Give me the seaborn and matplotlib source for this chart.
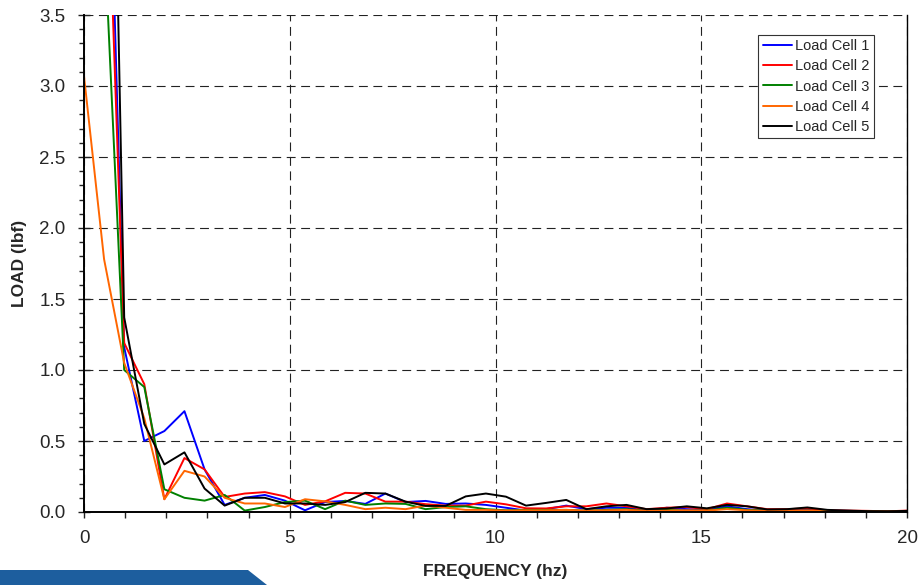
import numpy as np
import pandas as pd
import seaborn as sns
import matplotlib
matplotlib.use("Agg")
import matplotlib.pyplot as plt
from matplotlib.ticker import MultipleLocator, NullFormatter, FormatStrFormatter
from matplotlib.patches import Polygon

# ---------------- data ----------------
freq = [0.000, 0.488, 0.977, 1.465, 1.953, 2.441, 2.930, 3.418, 3.906, 4.395,
        4.883, 5.371, 5.859, 6.348, 6.836, 7.324, 7.813, 8.301, 8.789, 9.277,
        9.766, 10.254, 10.742, 11.230, 11.719, 12.207, 12.695, 13.184, 13.672, 14.160,
        14.648, 15.137, 15.625, 16.113, 16.602, 17.090, 17.578, 18.066, 18.555, 19.043,
        19.531, 20.020]

load_cell_1 = [8.0, 6.1, 1.16, 0.50, 0.57, 0.71, 0.30, 0.05, 0.10, 0.12,
               0.08, 0.012, 0.07, 0.078, 0.057, 0.13, 0.07, 0.078, 0.057, 0.06,
               0.05, 0.03, 0.01, 0.02, 0.045, 0.02, 0.03, 0.03, 0.01, 0.03,
               0.02, 0.015, 0.04, 0.02, 0.01, 0.015, 0.02, 0.01, 0.008, 0.005,
               0.005, 0.005]
load_cell_2 = [9.0, 5.3, 1.19, 0.90, 0.09, 0.38, 0.30, 0.106, 0.13, 0.14,
               0.11, 0.05, 0.075, 0.135, 0.13, 0.073, 0.073, 0.055, 0.045, 0.045,
               0.073, 0.054, 0.026, 0.025, 0.04, 0.04, 0.06, 0.04, 0.02, 0.03,
               0.035, 0.02, 0.06, 0.04, 0.02, 0.02, 0.025, 0.012, 0.01, 0.008,
               0.005, 0.01]
load_cell_3 = [6.0, 4.1, 1.00, 0.88, 0.16, 0.10, 0.08, 0.12, 0.01, 0.035,
               0.07, 0.08, 0.02, 0.08, 0.05, 0.06, 0.057, 0.02, 0.035, 0.04,
               0.02, 0.012, 0.015, 0.015, 0.015, 0.01, 0.015, 0.02, 0.008, 0.015,
               0.01, 0.01, 0.03, 0.015, 0.01, 0.008, 0.01, 0.005, 0.005, 0.004,
               0.003, 0.003]
load_cell_4 = [3.07, 1.78, 1.05, 0.66, 0.09, 0.29, 0.25, 0.10, 0.06, 0.06,
               0.035, 0.09, 0.075, 0.05, 0.02, 0.03, 0.02, 0.045, 0.03, 0.015,
               0.015, 0.01, 0.012, 0.012, 0.015, 0.01, 0.012, 0.015, 0.008, 0.01,
               0.012, 0.01, 0.02, 0.012, 0.008, 0.008, 0.01, 0.005, 0.004, 0.003,
               0.003, 0.003]
load_cell_5 = [12.0, 8.5, 1.37, 0.62, 0.335, 0.42, 0.165, 0.045, 0.10, 0.10,
               0.06, 0.06, 0.05, 0.07, 0.135, 0.13, 0.073, 0.043, 0.043, 0.11,
               0.13, 0.108, 0.045, 0.064, 0.085, 0.02, 0.04, 0.05, 0.02, 0.025,
               0.04, 0.026, 0.05, 0.04, 0.018, 0.02, 0.032, 0.015, 0.01, 0.006,
               0.005, 0.008]

series_names = ["Load Cell 1", "Load Cell 2", "Load Cell 3", "Load Cell 4", "Load Cell 5"]
series_values = [load_cell_1, load_cell_2, load_cell_3, load_cell_4, load_cell_5]
series_colors = ["#0000ff", "#ff0000", "#008000", "#ff6600", "#000000"]

x_label = "FREQUENCY (hz)"
y_label = "LOAD (lbf)"

# ---------------- build table ----------------
df = pd.concat(
    [pd.DataFrame({"freq": freq, "load": vals, "series": name})
     for name, vals in zip(series_names, series_values)],
    ignore_index=True)

sns.set_style("white")
plt.rcParams["font.family"] = ["Liberation Sans", "DejaVu Sans"]

fig = plt.figure(figsize=(9.22, 5.85), dpi=100)
ax = fig.add_axes([84 / 922, 73 / 585, 823 / 922, 497 / 585])

sns.lineplot(data=df, x="freq", y="load", hue="series", hue_order=series_names,
             palette=dict(zip(series_names, series_colors)), linewidth=1.4,
             ax=ax, legend=True, sort=False)

ax.set_xlim(0, 20)
ax.set_ylim(0, 3.5)

ax.xaxis.set_major_locator(MultipleLocator(5))
ax.xaxis.set_minor_locator(MultipleLocator(1))
ax.yaxis.set_major_locator(MultipleLocator(0.5))
ax.yaxis.set_minor_locator(MultipleLocator(0.1))
ax.yaxis.set_major_formatter(FormatStrFormatter("%.1f"))
ax.xaxis.set_minor_formatter(NullFormatter())

ax.tick_params(axis="x", which="both", direction="out", length=4.3, width=1,
               color="#222222", labelsize=13.5, pad=9, bottom=True)
ax.tick_params(axis="y", which="major", direction="inout", length=9, width=1,
               color="#222222", labelsize=13.5, pad=9, left=True)
ax.tick_params(axis="y", which="minor", direction="out", length=3.5, width=1,
               color="#222222", left=True)

ax.grid(True, which="major", color="#222222", linewidth=0.8,
        linestyle=(0, (8, 5)))
ax.set_axisbelow(True)

for side in ["left", "bottom", "right"]:
    ax.spines[side].set_visible(True)
    ax.spines[side].set_color("black")
ax.spines["left"].set_linewidth(1.4)
ax.spines["bottom"].set_linewidth(1.4)
ax.spines["right"].set_linewidth(1.0)
ax.spines["top"].set_visible(False)

ax.set_xlabel(x_label, fontsize=12.5, fontweight="bold", labelpad=12)
ax.set_ylabel(y_label, fontsize=12.5, fontweight="bold", labelpad=9)

leg = ax.legend(loc="upper right", bbox_to_anchor=(0.96, 0.96), borderaxespad=0,
                fontsize=10.5, frameon=True, fancybox=False, framealpha=1,
                edgecolor="#333333", handlelength=2.0, handletextpad=0.25,
                labelspacing=0.42, borderpad=0.3)
leg.get_frame().set_linewidth(0.8)
for line in leg.get_lines():
    line.set_linewidth(1.4)

# decorative blue banner at bottom-left
banner = Polygon([(0, 0), (267 / 922, 0), (248 / 922, 15 / 585), (0, 15 / 585)],
                 closed=True, transform=fig.transFigure, facecolor="#1d5e9e",
                 edgecolor="none", zorder=0)
fig.patches.append(banner)

fig.savefig("out.png", dpi=100)
